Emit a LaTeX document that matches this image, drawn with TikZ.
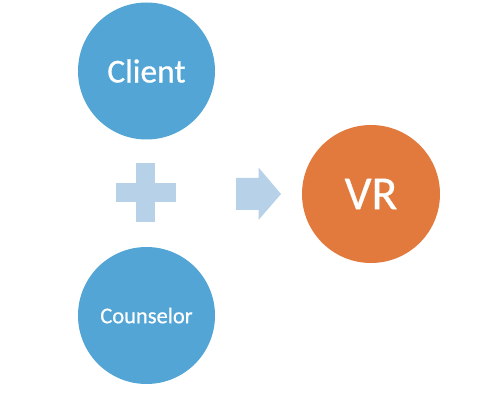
\documentclass[tikz,border=0pt]{standalone}
\usepackage{fontspec}
\setmainfont{Carlito}
\newfontfamily\semibold[FakeBold=0.6]{Carlito}
\definecolor{cblue}{RGB}{82,165,213}
\definecolor{corange}{RGB}{225,122,60}
\definecolor{clight}{RGB}{182,209,232}
\begin{document}
\begin{tikzpicture}[x=1pt,y=-1pt,
  bubble/.style={circle,fill=#1,draw=none,minimum size=137pt,inner sep=0pt,text=white},
  light/.style={fill=clight,draw=none}]
\useasboundingbox (0,0) rectangle (482,406);
\node[bubble=cblue,font=\semibold\fontsize{33.5}{36}\selectfont] (client) at (146.5,71) {Client};
\node[bubble=cblue,font=\semibold\fontsize{22.5}{26}\selectfont] (counselor) at (146.5,315.5) {Counselor};
\node[bubble=corange,minimum size=138pt,font=\semibold\fontsize{47.5}{50}\selectfont] (vr) at (371,194) {VR};
% plus
\fill[light] (136,163.5) rectangle (155,222.5);
\fill[light] (116,183.5) rectangle (175.5,202.5);
% arrow
\fill[light] (236,178) -- (258.5,178) -- (258.5,167.5) -- (281,194) -- (258.5,220) -- (258.5,210) -- (236,210) -- cycle;
\end{tikzpicture}
\end{document}
